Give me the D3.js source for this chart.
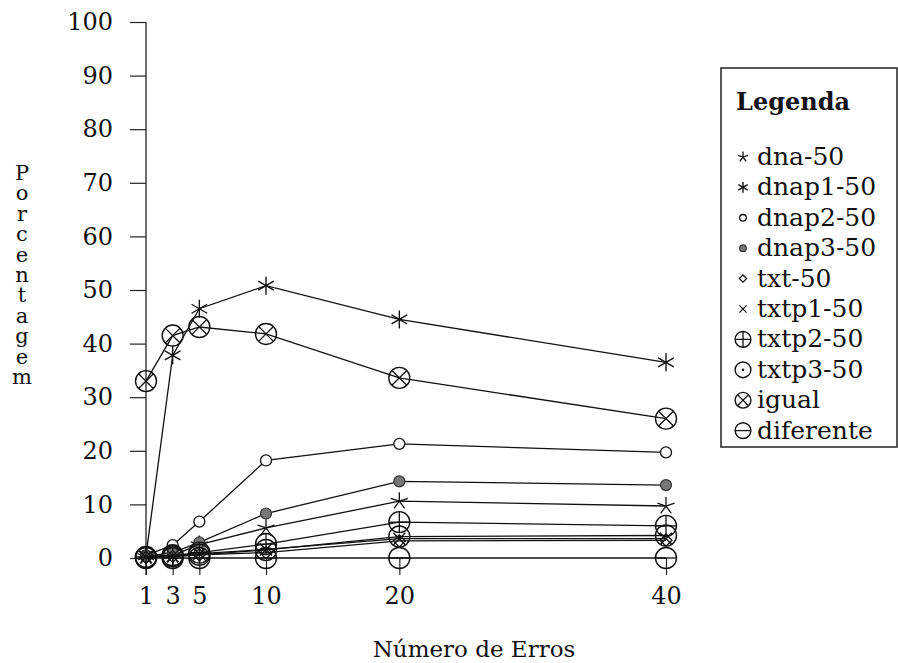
<!DOCTYPE html>
<html>
<head>
<meta charset="utf-8">
<script src="https://cdn.jsdelivr.net/npm/d3@7"></script>
<style>
  body { margin: 0; background: #fff; }
  svg text { font-family: "DejaVu Serif", serif; fill: #111; }
</style>
</head>
<body>
<div id="chart"></div>
<script>
// x positions (number of errors)
const erros = [1, 3, 5, 10, 20, 40];
const yTicks = [0, 10, 20, 30, 40, 50, 60, 70, 80, 90, 100];

// series values (percent)
const dna = [0.3, 0.5, 2.5, 5.6, 10.6, 9.7];
const dnap1 = [0.5, 37.8, 46.5, 50.8, 44.5, 36.5];
const dnap2 = [0.5, 2.4, 6.8, 18.2, 21.3, 19.7];
const dnap3 = [0.3, 1.0, 2.9, 8.3, 14.3, 13.6];
const txt = [0.1, 0.3, 0.6, 1.0, 3.2, 3.3];
const txtp1 = [0.2, 0.4, 0.8, 1.6, 3.6, 3.6];
const txtp2 = [0.2, 0.5, 1.0, 2.6, 6.7, 6.0];
const txtp3 = [0.1, 0.3, 0.6, 1.5, 4.0, 4.2];
const igual = [33.0, 41.5, 43.1, 41.8, 33.6, 26.0];
const diferente = [0, 0, 0, 0, 0, 0];

const seriesNames = ["dna-50", "dnap1-50", "dnap2-50", "dnap3-50", "txt-50",
  "txtp1-50", "txtp2-50", "txtp3-50", "igual", "diferente"];
const seriesValues = [dna, dnap1, dnap2, dnap3, txt, txtp1, txtp2, txtp3, igual, diferente];
const seriesSymbols = ["star", "aster", "circle", "dot", "diamond",
  "cross", "oplus", "odot", "otimes", "ominus"];

const width = 898, height = 663;
const serif = "DejaVu Serif";

const svg = d3.select("#chart").append("svg")
  .attr("width", width)
  .attr("height", height);

const x = d3.scaleLinear().domain([1, 40]).range([146, 666]);
const y = d3.scaleLinear().domain([0, 100]).range([558, 22]);

// y axis
const yAxis = svg.append("g")
  .attr("transform", "translate(146,0)")
  .call(d3.axisLeft(y).tickValues(yTicks).tickSize(16).tickPadding(17));
yAxis.attr("font-family", serif).attr("font-size", 24);
yAxis.select(".domain").remove();
yAxis.selectAll("line").attr("stroke", "#222").attr("stroke-width", 1.2);
yAxis.selectAll("text").attr("fill", "#111");
svg.append("line")
  .attr("x1", 146).attr("x2", 146)
  .attr("y1", y(100)).attr("y2", y(0) + 17)
  .attr("stroke", "#222").attr("stroke-width", 1.3);

// x axis: ticks hang below zero, no base line
const xAxis = svg.append("g")
  .attr("transform", "translate(0," + y(0) + ")")
  .call(d3.axisBottom(x).tickValues(erros).tickSize(17).tickPadding(12).tickFormat(d3.format("d")));
xAxis.attr("font-family", serif).attr("font-size", 24);
xAxis.select(".domain").remove();
xAxis.selectAll("line").attr("stroke", "#222").attr("stroke-width", 1.2);
xAxis.selectAll("text").attr("fill", "#111");

// axis titles
svg.append("text")
  .attr("x", 474).attr("y", 657)
  .attr("text-anchor", "middle")
  .style("font-size", "23px")
  .text("Número de Erros");

// stacked vertical letters
svg.append("text")
  .attr("x", 22).attr("y", 161)
  .style("font-size", "21px")
  .style("writing-mode", "vertical-rl")
  .style("text-orientation", "upright")
  .style("letter-spacing", "-3.6px")
  .text("Porcentagem");

// marker drawing
function drawSymbol(g, type, cx, cy, s) {
  const st = "#111";
  if (type === "star") {
    const r = 9 * s;
    for (let k = 0; k < 5; k++) {
      const a = -Math.PI / 2 + k * 2 * Math.PI / 5;
      g.append("line").attr("x1", cx).attr("y1", cy)
        .attr("x2", cx + r * Math.cos(a)).attr("y2", cy + r * Math.sin(a))
        .attr("stroke", st).attr("stroke-width", 1.3);
    }
  } else if (type === "aster") {
    const r = 9 * s;
    for (let k = 0; k < 6; k++) {
      const a = -Math.PI / 2 + k * Math.PI / 3;
      g.append("line").attr("x1", cx).attr("y1", cy)
        .attr("x2", cx + r * Math.cos(a)).attr("y2", cy + r * Math.sin(a))
        .attr("stroke", st).attr("stroke-width", 1.4);
    }
  } else if (type === "circle") {
    g.append("circle").attr("cx", cx).attr("cy", cy).attr("r", 5.5 * s)
      .attr("fill", "#fff").attr("stroke", st).attr("stroke-width", 1.3);
  } else if (type === "dot") {
    g.append("circle").attr("cx", cx).attr("cy", cy).attr("r", 5.5 * s)
      .attr("fill", "#777").attr("stroke", "#333").attr("stroke-width", 1.2);
  } else if (type === "diamond") {
    const r = 6 * s;
    g.append("path")
      .attr("d", `M${cx},${cy - r}L${cx + r},${cy}L${cx},${cy + r}L${cx - r},${cy}Z`)
      .attr("fill", "none").attr("stroke", st).attr("stroke-width", 1.3);
  } else if (type === "cross") {
    const r = 6 * s;
    g.append("path")
      .attr("d", `M${cx - r},${cy - r}L${cx + r},${cy + r}M${cx - r},${cy + r}L${cx + r},${cy - r}`)
      .attr("stroke", st).attr("stroke-width", 1.3);
  } else {
    const r = 10.5 * s;
    g.append("circle").attr("cx", cx).attr("cy", cy).attr("r", r)
      .attr("fill", "none").attr("stroke", st).attr("stroke-width", 1.4);
    let d = "";
    if (type === "oplus") d = `M${cx - r},${cy}L${cx + r},${cy}M${cx},${cy - r}L${cx},${cy + r}`;
    if (type === "ominus") d = `M${cx - r},${cy}L${cx + r},${cy}`;
    if (type === "otimes") {
      const q = r * Math.SQRT1_2;
      d = `M${cx - q},${cy - q}L${cx + q},${cy + q}M${cx - q},${cy + q}L${cx + q},${cy - q}`;
    }
    if (d) g.append("path").attr("d", d).attr("stroke", st).attr("stroke-width", 1.3);
    if (type === "odot") {
      g.append("circle").attr("cx", cx).attr("cy", cy).attr("r", 1.8 * s).attr("fill", st);
    }
  }
}

const line = d3.line()
  .x((d, i) => x(erros[i]))
  .y(d => y(d));

seriesValues.forEach((vals, si) => {
  const g = svg.append("g");
  g.append("path")
    .datum(vals)
    .attr("d", line)
    .attr("fill", "none")
    .attr("stroke", "#111")
    .attr("stroke-width", 1.3);
  vals.forEach((v, i) => drawSymbol(g, seriesSymbols[si], x(erros[i]), y(v), 1));
});

// legend
const leg = svg.append("g");
leg.append("rect")
  .attr("x", 721).attr("y", 68)
  .attr("width", 176).attr("height", 379)
  .attr("fill", "none").attr("stroke", "#222").attr("stroke-width", 1.5);
leg.append("text")
  .attr("x", 736).attr("y", 110)
  .style("font-size", "24px").style("font-weight", "bold")
  .text("Legenda");
seriesNames.forEach((name, i) => {
  const cy = 157 + i * 30.4;
  const small = ["star", "aster", "circle", "dot", "diamond", "cross"].includes(seriesSymbols[i]);
  drawSymbol(leg, seriesSymbols[i], 743, cy, small ? 0.6 : 0.75);
  leg.append("text")
    .attr("x", 757).attr("y", cy + 8)
    .style("font-size", "25px")
    .text(name);
});
</script>
</body>
</html>
